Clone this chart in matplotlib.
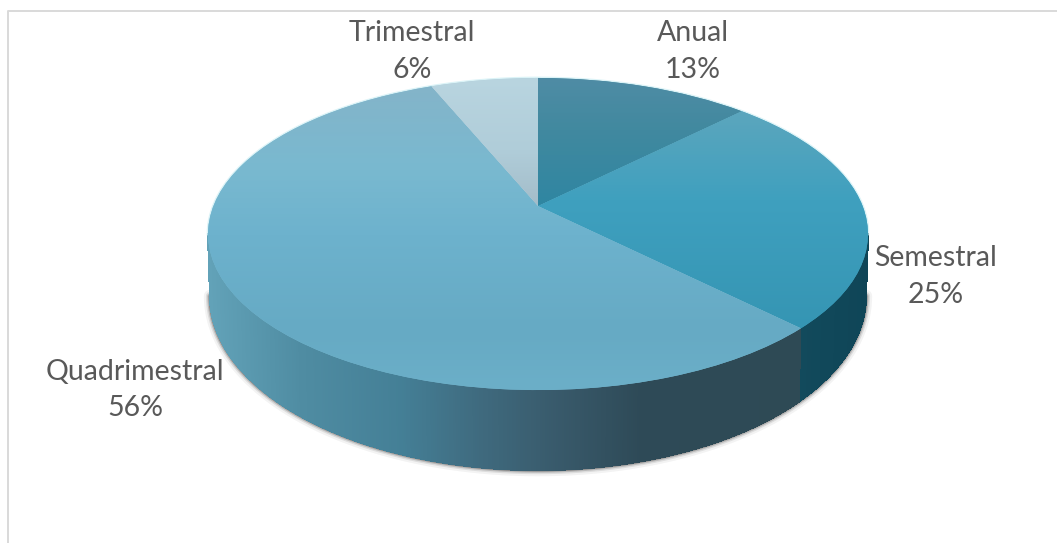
import numpy as np
import matplotlib
matplotlib.use("Agg")
import matplotlib.pyplot as plt
from matplotlib.collections import PolyCollection
from matplotlib.colors import to_rgb
from matplotlib.transforms import Transform

# ---- data -------------------------------------------------------------
categories = ["Anual", "Semestral", "Quadrimestral", "Trimestral"]
shares = [12.5, 25.0, 56.25, 6.25]
percent_labels = ["13%", "25%", "56%", "6%"]

# ---- style / layout (pixels) -------------------------------------------
W, H = 1057, 543
CX, APEX_Y = 538, 206
A, B, K = 324.6, 151.0, 0.1795
A2, B2, APEX2_Y = 322.6, 168.4, 264.8

top_gradients = [
    [(78, "#4f8ca5"), (130, "#41899f"), (205, "#2f86a2")],
    [(110, "#5ca6bd"), (200, "#3fa0bf"), (330, "#3595b3")],
    [(85, "#84b4c9"), (170, "#79b9d0"), (235, "#6db2cd"), (330, "#66aac4"), (390, "#6cafc8")],
    [(78, "#b9d5e0"), (150, "#b0cdd9"), (205, "#a3bcc9")],
]
wall_quad = [(208, "#62a2b8"), (300, "#4f8ca2"), (400, "#447f96"), (480, "#3f6a7e"),
             (560, "#38596a"), (640, "#2e4a57"), (800, "#2e4a55")]
wall_sem = [(800, "#124a5c"), (868, "#0f4557")]
label_pos = [(693, 33, 70), (936, 258, 295), (135, 372, 408), (412, 33, 70)]


class Perspective(Transform):
    """Projects the unit-circle pie on to the tilted top face, in pixels."""
    input_dims = output_dims = 2
    is_separable = False
    has_inverse = False

    def __init__(self, a, b, k, cx, cy):
        super().__init__()
        self.a, self.b, self.k, self.cx, self.cy = a, b, k, cx, cy

    def transform_non_affine(self, xy):
        xy = np.asarray(xy, float)
        d = 1 + self.k * xy[:, 1]
        return np.column_stack([self.cx + self.a * xy[:, 0] / d,
                                self.cy - self.b * xy[:, 1] / d])


def stops_to_rgb(stops, v):
    pos = [s[0] for s in stops]
    rgb = np.array([to_rgb(s[1]) for s in stops])
    return np.column_stack([np.interp(v, pos, rgb[:, i]) for i in range(3)])


plt.rcParams["font.family"] = ["Lato", "DejaVu Sans"]
fig = plt.figure(figsize=(W / 100, H / 100), dpi=100, facecolor="white")
ax = fig.add_axes([0, 0, 1, 1])

top_tf = Perspective(A, B, K, CX, APEX_Y)
bottom_tf = Perspective(A2, B2, K, CX, APEX2_Y)

wedges, _ = ax.pie(shares, startangle=90, counterclock=False, radius=1,
                   colors=[s[1][1] for s in top_gradients], labels=None)
ax.set_aspect("auto")
ax.set_xlim(0, W)
ax.set_ylim(H, 0)
ax.axis("off")

# side wall
cum = np.cumsum(shares) / np.sum(shares)
tang = np.arctan2(-K, np.sqrt(1 - K ** 2))
th = np.linspace(tang, -np.pi - tang, 500)
unit = np.column_stack([np.cos(th), np.sin(th)])
rim_top = top_tf.transform(unit)
rim_bot = bottom_tf.transform(unit)

for lw, al in [(9, .05), (6, .10), (4, .18), (2.2, .35)]:
    ax.plot(rim_bot[:, 0], rim_bot[:, 1], color="#1c1c1c", lw=lw, alpha=al,
            zorder=1, solid_capstyle="round")

quads, cols = [], []
for i in range(len(th) - 1):
    quads.append([rim_top[i], rim_top[i + 1], rim_bot[i + 1], rim_bot[i]])
    xm = (rim_top[i, 0] + rim_top[i + 1, 0]) / 2
    f = (np.pi / 2 - (th[i] + th[i + 1]) / 2) / (2 * np.pi)
    idx = np.searchsorted(cum, f)
    cols.append(stops_to_rgb(wall_sem if idx == 1 else wall_quad, [xm])[0])
ax.add_collection(PolyCollection(quads, facecolors=cols, edgecolors=cols,
                                 linewidths=0.8, antialiased=False, zorder=2))

# light halo along the back of the rim only
circ = np.linspace(tang, np.pi - tang, 300)
halo = top_tf.transform(np.column_stack([np.cos(circ), np.sin(circ)]))
ax.plot(halo[:, 0], halo[:, 1], color="#cdeef4", lw=2.0, alpha=.7, zorder=2.5)

# top face: real pie wedges, projected, each with a vertical gradient
ys = np.arange(60, 400)
for wedge, stops in zip(wedges, top_gradients):
    wedge.set_transform(top_tf + ax.transData)
    wedge.set_edgecolor("none")
    wedge.set_zorder(3)
    img = stops_to_rgb(stops, ys)[:, None, :]
    im = ax.imshow(img, extent=(190, 890, 400, 60), aspect="auto", zorder=4,
                   interpolation="bilinear")
    im.set_clip_path(wedge)
ax.set_xlim(0, W)
ax.set_ylim(H, 0)

# labels
for name, pct, (x, y1, y2) in zip(categories, percent_labels, label_pos):
    ax.text(x, y1, name, ha="center", va="center", fontsize=20.5, color="#595959", zorder=6)
    ax.text(x, y2, pct, ha="center", va="center", fontsize=20.5, color="#595959", zorder=6)

# chart frame visible at the top and left
ax.plot([7.5, 7.5, W], [H, 10.5, 10.5], color="#d9d9d9", lw=1.4, zorder=5)

fig.savefig("out.png", dpi=100, facecolor="white")
